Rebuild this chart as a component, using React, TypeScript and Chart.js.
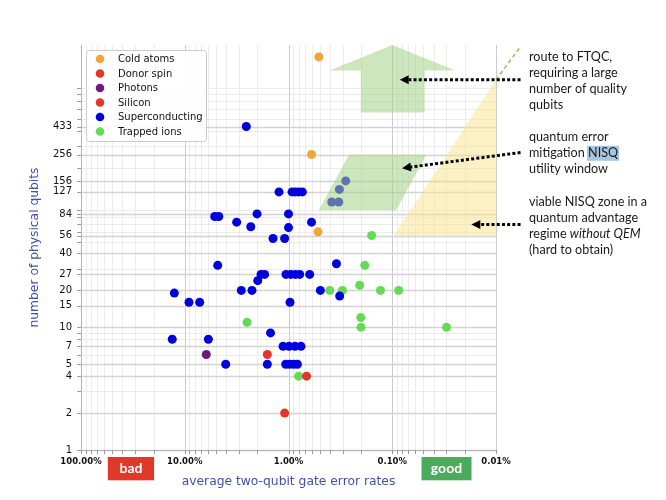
import React, { useEffect, useRef } from "react";
import { Chart, registerables } from "chart.js";

Chart.register(...registerables);

// Average two-qubit gate error (%) and number of physical qubits, per platform
const coldAtomsError = [0.51, 0.6, 0.52];
const coldAtomsQubits = [1600, 256, 60];
const donorSpinError = [1.09];
const donorSpinQubits = [2];
const photonsError = [6.2];
const photonsQubits = [6];
const siliconError = [1.6, 0.67];
const siliconQubits = [6, 4];
const superconductingError = [
  2.55,
  1.235, 0.925, 0.862, 0.798, 0.735,
  5.14, 4.7, 2.01, 1.0,
  3.16, 0.6,
  2.31, 1.0,
  1.41, 1.09,
  0.281, 0.323, 0.383, 0.328,
  4.81, 0.345,
  1.84, 1.7, 1.057, 0.952, 0.858, 0.78, 0.625,
  1.98,
  2.85, 2.25, 0.493,
  12.6, 0.321,
  9.1, 7.18, 0.967,
  1.49,
  13.2, 5.92,
  1.13, 0.989, 0.866, 0.758,
  4.03, 1.6, 1.064, 0.974, 0.891, 0.821,
];
const superconductingQubits = [
  433,
  127, 127, 127, 127, 127,
  80, 80, 84, 84,
  72, 72,
  66, 65,
  53, 53,
  156, 133, 105, 105,
  32, 33,
  27, 27, 27, 27, 27, 27, 27,
  24,
  20, 20, 20,
  19, 18,
  16, 16, 16,
  9,
  8, 8,
  7, 7, 7, 7,
  5, 5, 5, 5, 5, 5,
];
const trappedIonsError = [0.8, 2.51, 0.4, 0.302, 0.206, 0.13, 0.0867, 0.184, 0.201, 0.2, 0.03, 0.158];
const trappedIonsQubits = [4, 11, 20, 20, 22, 20, 20, 32, 12, 10, 10, 56];

const platformLabels = ["Cold atoms", "Donor spin", "Photons", "Silicon", "Superconducting", "Trapped ions"];
const platformColors = ["#f0a43a", "#e3352b", "#6e1a7c", "#e3352b", "#0000dd", "#66d957"];
const platformErrors = [coldAtomsError, donorSpinError, photonsError, siliconError, superconductingError, trappedIonsError];
const platformQubits = [coldAtomsQubits, donorSpinQubits, photonsQubits, siliconQubits, superconductingQubits, trappedIonsQubits];

// Axis ticks
const errorTicks = [100, 10, 1, 0.1, 0.01];
const qubitTicks = [1, 2, 4, 5, 7, 10, 15, 20, 27, 40, 56, 84, 127, 156, 256, 433];

// Regions, given as (error %, qubits)
const ftqcArrowShape = [
  [0.201, 564], [0.201, 1241], [0.401, 1241], [0.1, 2000],
  [0.0245, 1241], [0.0487, 1241], [0.0487, 564],
];
const qemWindowShape = [[0.512, 90], [0.261, 255], [0.0469, 255], [0.0918, 90]];
const noQemZoneShape = [[0.096, 56], [0.01, 56], [0.01, 1040]];
const ftqcRouteLine = [[0.01, 1040], [0.0058, 1940]];
const noteArrows = [
  { from: [0.0058, 1042], to: [0.0848, 1042] },
  { from: [0.0058, 266], to: [0.0805, 198] },
  { from: [0.0058, 69], to: [0.0173, 69] },
];

// Side notes: [word] is highlighted, _words_ are italic
const noteFtqc = ["route to FTQC,", "requiring a large", "number of quality", "qubits"];
const noteQem = ["quantum error", "mitigation [NISQ]", "utility window"];
const noteViable = ["viable NISQ zone in a", "quantum advantage", "regime _without QEM_", "(hard to obtain)"];

const FONT = "'DejaVu Sans', sans-serif";
const NOTE_FONT = "Lato, 'Open Sans', sans-serif";

function tracePolygon(chart: any, pts: number[][]) {
  const { x, y } = chart.scales;
  const ctx = chart.ctx;
  ctx.beginPath();
  pts.forEach(([e, q], i) => {
    const px = x.getPixelForValue(e);
    const py = y.getPixelForValue(q);
    if (i === 0) ctx.moveTo(px, py);
    else ctx.lineTo(px, py);
  });
  ctx.closePath();
}

const gridPlugin = {
  id: "logGrid",
  beforeDatasetsDraw(chart: any) {
    const { ctx, chartArea: a, scales } = chart;
    const { x, y } = scales;
    ctx.save();
    const vline = (v: number, color: string, w: number) => {
      const p = Math.round(x.getPixelForValue(v)) + 0.5;
      ctx.strokeStyle = color;
      ctx.lineWidth = w;
      ctx.beginPath();
      ctx.moveTo(p, a.top);
      ctx.lineTo(p, a.bottom);
      ctx.stroke();
    };
    const hline = (v: number, color: string, w: number) => {
      const p = Math.round(y.getPixelForValue(v)) + 0.5;
      ctx.strokeStyle = color;
      ctx.lineWidth = w;
      ctx.beginPath();
      ctx.moveTo(a.left, p);
      ctx.lineTo(a.right, p);
      ctx.stroke();
    };
    const minorX: number[] = [];
    for (let e = -2; e < 2; e++) for (let k = 2; k <= 9; k++) minorX.push(k * Math.pow(10, e));
    const minorY: number[] = [];
    for (let e = 0; e <= 3; e++)
      for (let k = 2; k <= 9; k++) {
        const v = k * Math.pow(10, e);
        if (v < 2000) minorY.push(v);
      }
    minorX.forEach((v) => vline(v, "#ececec", 1));
    minorY.forEach((v) => hline(v, "#ececec", 1));
    errorTicks.forEach((v) => vline(v, "#cbcbcb", 1));
    qubitTicks.forEach((v) => hline(v, "#d3d3d3", 1.5));

    // spines and tick marks
    ctx.strokeStyle = "#b5b5b5";
    ctx.lineWidth = 1;
    ctx.beginPath();
    ctx.moveTo(a.left + 0.5, a.top);
    ctx.lineTo(a.left + 0.5, a.bottom + 0.5);
    ctx.lineTo(a.right, a.bottom + 0.5);
    ctx.stroke();
    ctx.strokeStyle = "#9a9a9a";
    ctx.beginPath();
    [...minorY, ...qubitTicks].forEach((v) => {
      const p = Math.round(y.getPixelForValue(v)) + 0.5;
      ctx.moveTo(a.left - 4, p);
      ctx.lineTo(a.left, p);
    });
    [...minorX, ...errorTicks].forEach((v) => {
      const p = Math.round(x.getPixelForValue(v)) + 0.5;
      ctx.moveTo(p, a.bottom);
      ctx.lineTo(p, a.bottom + 4);
    });
    ctx.stroke();
    ctx.restore();
  },
  afterDatasetsDraw(chart: any) {
    const { ctx, chartArea: a, scales } = chart;
    const { x, y } = scales;
    ctx.save();

    // regions
    tracePolygon(chart, noQemZoneShape);
    ctx.fillStyle = "rgba(250, 226, 140, 0.5)";
    ctx.fill();
    tracePolygon(chart, qemWindowShape);
    ctx.fillStyle = "rgba(165, 209, 134, 0.55)";
    ctx.fill();
    tracePolygon(chart, ftqcArrowShape);
    ctx.fillStyle = "rgba(165, 209, 134, 0.55)";
    ctx.fill();

    ctx.strokeStyle = "#8cc063";
    ctx.lineWidth = 1.5;
    ctx.setLineDash([4, 3]);
    ctx.beginPath();
    ftqcRouteLine.forEach(([e, q], i) => {
      const px = x.getPixelForValue(e);
      const py = y.getPixelForValue(q);
      if (i === 0) ctx.moveTo(px, py);
      else ctx.lineTo(px, py);
    });
    ctx.stroke();
    ctx.setLineDash([]);

    // legend
    const lx = a.left + 5;
    const ly = a.top + 5;
    ctx.fillStyle = "rgba(255,255,255,0.9)";
    ctx.strokeStyle = "#cccccc";
    ctx.lineWidth = 1;
    ctx.beginPath();
    ctx.roundRect(lx + 0.5, ly + 0.5, 120, 91, 3);
    ctx.fill();
    ctx.stroke();
    ctx.font = `10px ${FONT}`;
    ctx.textBaseline = "middle";
    ctx.textAlign = "left";
    platformLabels.forEach((label, i) => {
      const cy = ly + 9 + i * 14.5;
      ctx.fillStyle = platformColors[i];
      ctx.beginPath();
      ctx.arc(lx + 14, cy, 4.3, 0, Math.PI * 2);
      ctx.fill();
      ctx.fillStyle = "#111";
      ctx.fillText(label, lx + 32, cy + 0.5);
    });
    ctx.restore();
  },
  afterDraw(chart: any) {
    const { ctx, chartArea: a, scales } = chart;
    const { x, y } = scales;
    ctx.save();

    // dotted pointers
    noteArrows.forEach(({ from, to }) => {
      const x0 = x.getPixelForValue(from[0]);
      const y0 = y.getPixelForValue(from[1]);
      const x1 = x.getPixelForValue(to[0]);
      const y1 = y.getPixelForValue(to[1]);
      const ang = Math.atan2(y1 - y0, x1 - x0);
      const head = 9;
      const hx = x1 - head * Math.cos(ang);
      const hy = y1 - head * Math.sin(ang);
      ctx.strokeStyle = "#000";
      ctx.lineWidth = 3;
      ctx.setLineDash([3, 2.2]);
      ctx.beginPath();
      ctx.moveTo(x0, y0);
      ctx.lineTo(hx, hy);
      ctx.stroke();
      ctx.setLineDash([]);
      ctx.fillStyle = "#000";
      ctx.beginPath();
      ctx.moveTo(x1, y1);
      ctx.lineTo(hx + 4.5 * Math.sin(ang), hy - 4.5 * Math.cos(ang));
      ctx.lineTo(hx - 4.5 * Math.sin(ang), hy + 4.5 * Math.cos(ang));
      ctx.closePath();
      ctx.fill();
    });

    // side notes
    const tx = a.right + 33;
    const drawBlock = (lines: string[], y0: number) => {
      lines.forEach((line, i) => {
        const ly = y0 + i * 16;
        let cx = tx;
        line.split(/(\[[^\]]+\]|_[^_]+_)/).forEach((seg) => {
          if (!seg) return;
          let text = seg;
          let italic = false;
          let mark = false;
          if (seg.startsWith("[")) {
            text = seg.slice(1, -1);
            mark = true;
          } else if (seg.startsWith("_")) {
            text = seg.slice(1, -1);
            italic = true;
          }
          ctx.font = `${italic ? "italic " : ""}12.6px ${NOTE_FONT}`;
          const w = ctx.measureText(text).width;
          if (mark) {
            ctx.fillStyle = "#a7c7e0";
            ctx.fillRect(cx - 1, ly - 7.5, w + 2, 15);
          }
          ctx.fillStyle = "#1a1a1a";
          ctx.textBaseline = "middle";
          ctx.textAlign = "left";
          ctx.fillText(text, cx, ly);
          cx += w;
        });
      });
    };
    drawBlock(noteFtqc, a.top + 11.7);
    drawBlock(noteQem, a.top + 92.3);
    drawBlock(noteViable, a.top + 157);

    // bad / good tags under the error axis
    const tag = (err: number, w: number, color: string, text: string) => {
      const cx = x.getPixelForValue(err);
      const top = a.bottom + 7;
      ctx.fillStyle = color;
      ctx.fillRect(cx - w / 2, top, w, 23.3);
      ctx.fillStyle = "#fff";
      ctx.font = `bold 14px ${NOTE_FONT}`;
      ctx.textAlign = "center";
      ctx.textBaseline = "middle";
      ctx.fillText(text, cx, top + 11.8);
    };
    tag(33, 46.3, "#e0392b", "bad");
    tag(0.03, 50, "#4caa5c", "good");
    ctx.restore();
  },
};

export default function App() {
  const canvasRef = useRef<HTMLCanvasElement>(null);

  useEffect(() => {
    const datasets = platformLabels.map((label, i) => ({
      label,
      data: platformErrors[i].map((e, j) => ({ x: e, y: platformQubits[i][j] })),
      backgroundColor: platformColors[i],
      borderWidth: 0,
      pointRadius: 4.5,
      pointHoverRadius: 4.5,
    }));

    const chart = new Chart(canvasRef.current!, {
      type: "scatter",
      data: { datasets },
      options: {
        animation: false,
        responsive: false,
        devicePixelRatio: 1,
        layout: { padding: { left: 0, top: 45, right: 170, bottom: 0 } },
        plugins: {
          legend: { display: false },
          tooltip: { enabled: false },
        },
        scales: {
          x: {
            type: "logarithmic",
            reverse: true,
            min: 0.01,
            max: 100,
            afterBuildTicks: (scale: any) => {
              scale.ticks = errorTicks.map((v) => ({ value: v }));
            },
            afterFit: (scale: any) => {
              scale.height = 50;
            },
            grid: { display: false, drawTicks: true, tickLength: 4 },
            border: { display: false },
            ticks: {
              autoSkip: false,
              maxRotation: 0,
              padding: 2.5,
              color: "#111",
              font: { family: FONT, size: 8.5, weight: "bold" },
              callback: (v: any) => Number(v).toFixed(2) + "%",
            },
            title: {
              display: true,
              text: "average two-qubit gate error rates",
              color: "#3f51a8",
              font: { family: FONT, size: 12.3 },
              padding: { top: 0, bottom: 10.6 },
            },
          },
          y: {
            type: "logarithmic",
            min: 1,
            max: 2000,
            afterBuildTicks: (scale: any) => {
              scale.ticks = qubitTicks.map((v) => ({ value: v }));
            },
            afterFit: (scale: any) => {
              scale.width = 81;
            },
            grid: { display: false, drawTicks: true, tickLength: 4 },
            border: { display: false },
            ticks: {
              autoSkip: false,
              padding: 5,
              color: "#111",
              font: { family: FONT, size: 10 },
              callback: (v: any) => String(v),
            },
            title: {
              display: true,
              text: "number of physical qubits",
              color: "#3f51a8",
              font: { family: FONT, size: 12.3 },
              padding: { top: 27.1, bottom: 0 },
            },
          },
        },
      },
      plugins: [gridPlugin],
    } as any);

    return () => chart.destroy();
  }, []);

  return (
    <div style={{ position: "fixed", left: 0, top: 0, width: 666, height: 500, background: "#fff" }}>
      <canvas ref={canvasRef} width={666} height={500} style={{ width: 666, height: 500, display: "block" }} />
    </div>
  );
}
